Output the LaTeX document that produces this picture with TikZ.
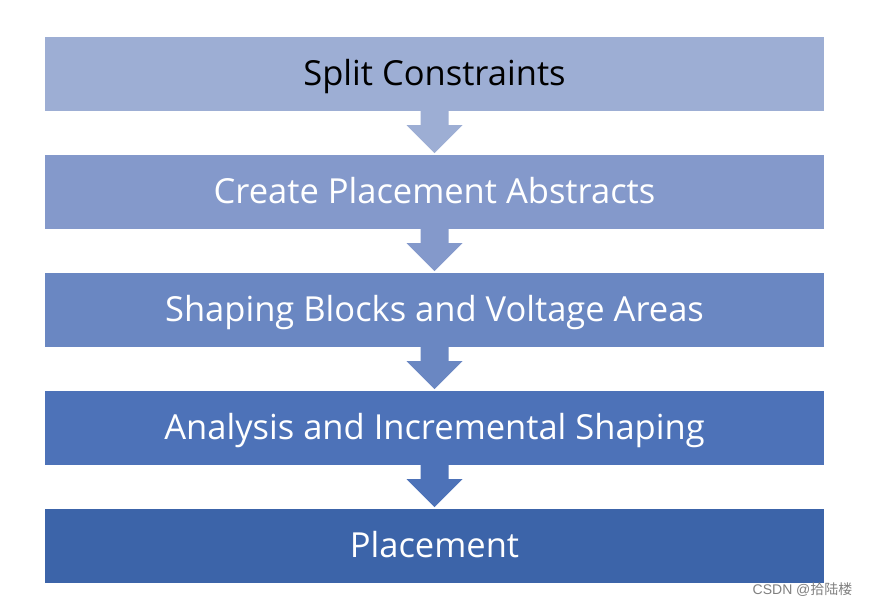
\documentclass[tikz,border=0pt]{standalone}
\usepackage{fontspec}
\usetikzlibrary{calc}
\setmainfont{Open Sans}
\newfontfamily\cjk{Noto Sans CJK SC}
\definecolor{cA}{HTML}{9DAED4}
\definecolor{cB}{HTML}{8499CB}
\definecolor{cC}{HTML}{6A87C2}
\definecolor{cD}{HTML}{4D72B8}
\definecolor{cE}{HTML}{3C64A9}
\begin{document}
\begin{tikzpicture}[x=1pt,y=-1pt,
  stage/.style={draw=none,minimum width=779pt,minimum height=74pt,inner sep=0pt,
    text height=26pt,text depth=3pt,
    font=\fontsize{34.5}{38}\selectfont}]
\useasboundingbox (0,0) rectangle (869,607);
\node[stage,fill=cA,text=black] (s1) at (434.5,74) {Split Constraints};
\node[stage,fill=cB,text=white] (s2) at (434.5,192) {Create Placement Abstracts};
\node[stage,fill=cC,text=white] (s3) at (434.5,310) {Shaping Blocks and Voltage Areas};
\node[stage,fill=cD,text=white] (s4) at (434.5,428) {Analysis and Incremental Shaping};
\node[stage,fill=cE,text=white] (s5) at (434.5,546) {Placement};
\foreach \a/\b/\c in {s1/s2/cA,s2/s3/cB,s3/s4/cC,s4/s5/cD}{
  \fill[\c] (\a.south) ++(-14,0) -- ++(0,14) -- ++(-14,0) -- ($(\a.south)+(0,42)$) -- ++(28,-28) -- ++(-14,0) -- ++(0,-14) -- cycle;
}
\node[anchor=east,text=black!50,font=\fontsize{14}{16}\selectfont] (wm) at (856,590) {\fontspec{Liberation Sans}CSDN @\cjk 拾陆楼};
\end{tikzpicture}
\end{document}
